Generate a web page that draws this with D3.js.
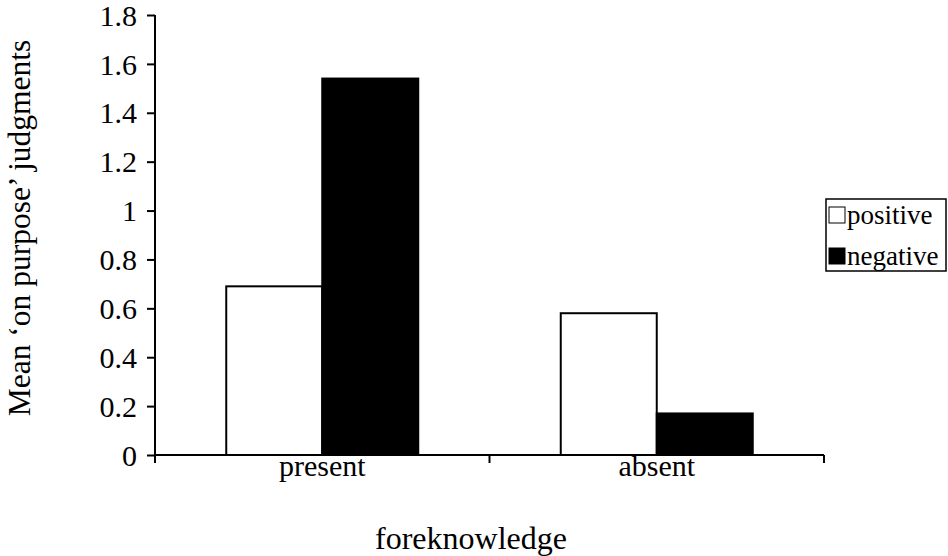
<!DOCTYPE html>
<html>
<head>
<meta charset="utf-8">
<script src="https://cdn.jsdelivr.net/npm/d3@7"></script>
<style>
  html, body { margin: 0; padding: 0; background: #fff; }
  svg { display: block; }
  svg text { font-family: "Liberation Serif", "Times New Roman", Times, serif; fill: #000; }
</style>
</head>
<body>
<svg id="chart" width="948" height="556" font-family="Liberation Serif, Times New Roman, serif"></svg>
<script>
// Mean 'on purpose' judgments by foreknowledge and outcome valence
const categories = ["present", "absent"];
const seriesNames = ["positive", "negative"];
const positiveValues = [0.69, 0.58];
const negativeValues = [1.54, 0.17];
const yTicks = [0, 0.2, 0.4, 0.6, 0.8, 1, 1.2, 1.4, 1.6, 1.8];
const seriesFill = { positive: "#ffffff", negative: "#000000" };

const rows = categories.map((c, i) => ({
  category: c,
  values: [
    { key: "positive", value: positiveValues[i] },
    { key: "negative", value: negativeValues[i] }
  ]
}));

const serif = "'Liberation Serif', 'Times New Roman', serif";
const svg = d3.select("#chart");
const plot = { left: 155, right: 824, top: 15, bottom: 455 };

const x = d3.scaleBand()
  .domain(categories)
  .range([plot.left, plot.right])
  .paddingInner(0)
  .paddingOuter(0);

const barW = 96;
const x1 = d3.scaleBand()
  .domain(seriesNames)
  .range([0, barW * 2]);

const y = d3.scaleLinear()
  .domain([0, 1.8])
  .range([plot.bottom, plot.top]);

// bars
const groups = svg.append("g")
  .selectAll("g")
  .data(rows)
  .join("g")
  .attr("transform", d => `translate(${x(d.category) + (x.bandwidth() - barW * 2) / 2},0)`);

groups.selectAll("rect")
  .data(d => d.values)
  .join("rect")
  .attr("x", d => x1(d.key))
  .attr("y", d => y(d.value))
  .attr("width", x1.bandwidth())
  .attr("height", d => plot.bottom - y(d.value))
  .attr("fill", d => seriesFill[d.key])
  .attr("stroke", "#000")
  .attr("stroke-width", 2);

// y axis
const yAxis = d3.axisLeft(y)
  .tickValues(yTicks)
  .tickFormat(d => d3.format("")(+d.toFixed(1)))
  .tickSize(8)
  .tickPadding(10);

const gy = svg.append("g")
  .attr("transform", `translate(${plot.left},0)`)
  .call(yAxis)
  .attr("font-family", serif);
gy.select(".domain").attr("d", `M0,${plot.top}V${plot.bottom}`).attr("stroke-width", 2);
gy.selectAll(".tick line").attr("stroke-width", 2);
gy.selectAll(".tick text")
  .style("font-family", serif)
  .style("font-size", "30px")
  .attr("dy", "0.34em");

// x axis with ticks at category boundaries
const gx = svg.append("g")
  .attr("transform", `translate(0,${plot.bottom})`);
gx.append("line")
  .attr("x1", plot.left).attr("x2", plot.right)
  .attr("stroke", "#000").attr("stroke-width", 2);
const bounds = categories.map(c => x(c)).concat([plot.right]);
gx.selectAll("line.tk")
  .data(bounds)
  .join("line")
  .attr("class", "tk")
  .attr("x1", d => d).attr("x2", d => d)
  .attr("y1", 0).attr("y2", 8)
  .attr("stroke", "#000").attr("stroke-width", 2);
gx.selectAll("text")
  .data(categories)
  .join("text")
  .attr("x", d => x(d) + x.bandwidth() / 2)
  .attr("y", 21)
  .attr("text-anchor", "middle")
  .style("font-family", serif)
  .style("font-size", "30px")
  .text(d => d);

// axis titles
svg.append("text")
  .attr("x", 471)
  .attr("y", 549)
  .attr("text-anchor", "middle")
  .style("font-family", serif)
  .style("font-size", "32px")
  .text("foreknowledge");

svg.append("text")
  .attr("transform", `translate(30,228) rotate(-90)`)
  .attr("text-anchor", "middle")
  .style("font-family", serif)
  .style("font-size", "31.5px")
  .text("Mean \u2018on purpose\u2019 judgments");

// legend
const lg = svg.append("g").attr("transform", "translate(826,199)");
lg.append("rect")
  .attr("x", 0).attr("y", 0).attr("width", 120).attr("height", 72)
  .attr("fill", "#fff").attr("stroke", "#000").attr("stroke-width", 1.5);
const items = lg.selectAll("g.item")
  .data(seriesNames)
  .join("g")
  .attr("class", "item")
  .attr("transform", (d, i) => `translate(3,${8 + i * 41})`);
items.append("rect")
  .attr("width", 16).attr("height", 16)
  .attr("fill", d => seriesFill[d])
  .attr("stroke", "#000").attr("stroke-width", 1);
items.append("text")
  .attr("x", 18).attr("y", 17)
  .style("font-family", serif)
  .style("font-size", "27px")
  .text(d => d);
</script>
</body>
</html>
